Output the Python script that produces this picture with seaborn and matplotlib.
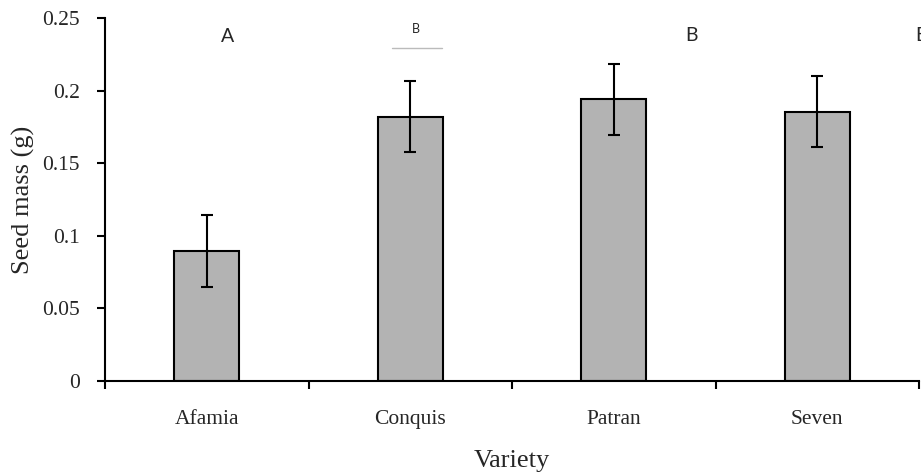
import matplotlib
matplotlib.use("Agg")
import matplotlib.pyplot as plt
import seaborn as sns
import pandas as pd
import numpy as np

# Seed mass per variety (mean and error)
varieties = ["Afamia", "Conquis", "Patran", "Seven"]
seed_mass = [0.0895, 0.182, 0.194, 0.1855]
seed_err = [0.0245, 0.0245, 0.0245, 0.0245]

# Significance letters above the bars
letters = ["A", "B", "B", "B"]
letter_x = [0.10, 1.03, 2.38, 3.51]
letter_y = [0.237, 0.2425, 0.238, 0.238]
letter_size = [14, 9, 14, 14]

sns.set_theme(style="white")
plt.rcParams["font.family"] = ["Liberation Serif", "DejaVu Serif"]

df = pd.DataFrame({"Variety": varieties, "Seed mass": seed_mass})

fig = plt.figure(figsize=(9.21, 4.75), dpi=100)
ax = fig.add_axes([105 / 921, 1 - 381 / 475, (919 - 105) / 921, (381 - 18) / 475])

sns.barplot(data=df, x="Variety", y="Seed mass", color="#b3b3b3",
            edgecolor="black", linewidth=1.5, width=0.32, errorbar=None,
            saturation=1, ax=ax)
ax.errorbar(np.arange(len(varieties)), seed_mass, yerr=seed_err, fmt="none",
            ecolor="black", elinewidth=1.5, capsize=4.3, capthick=1.5)

ax.set_xlim(-0.5, 3.5)
ax.set_ylim(0, 0.25)
ax.set_yticks([0, 0.05, 0.1, 0.15, 0.2, 0.25])
ax.set_yticklabels(["0", "0.05", "0.1", "0.15", "0.2", "0.25"])

# category boundaries carry the tick marks, labels sit at the centres
ax.set_xticks(np.arange(-0.5, 4.0, 1.0))
ax.set_xticklabels([])
ax.set_xticks(np.arange(len(varieties)), minor=True)
ax.set_xticklabels(varieties, minor=True)
ax.tick_params(axis="x", which="major", direction="out", length=6, width=1.5,
               color="black", bottom=True)
ax.tick_params(axis="x", which="minor", length=0, pad=21, labelsize=15.5)
ax.tick_params(axis="y", direction="out", length=6, width=1.5, color="black",
               left=True, pad=12, labelsize=15.5)

for side in ["top", "right"]:
    ax.spines[side].set_visible(False)
for side in ["left", "bottom"]:
    ax.spines[side].set_color("black")
    ax.spines[side].set_linewidth(1.5)

ax.set_xlabel("Variety", fontsize=19, labelpad=15)
ax.set_ylabel("Seed mass (g)", fontsize=19, labelpad=5)

for lx, ly, lt, ls in zip(letter_x, letter_y, letters, letter_size):
    ax.text(lx, ly, lt, ha="center", va="center", fontsize=ls,
            family=["Lato", "DejaVu Sans"], clip_on=False)
ax.plot([0.91, 1.155], [0.2293, 0.2293], color="#bbbbbb", lw=1, clip_on=False)

fig.savefig("out.png", dpi=100)
